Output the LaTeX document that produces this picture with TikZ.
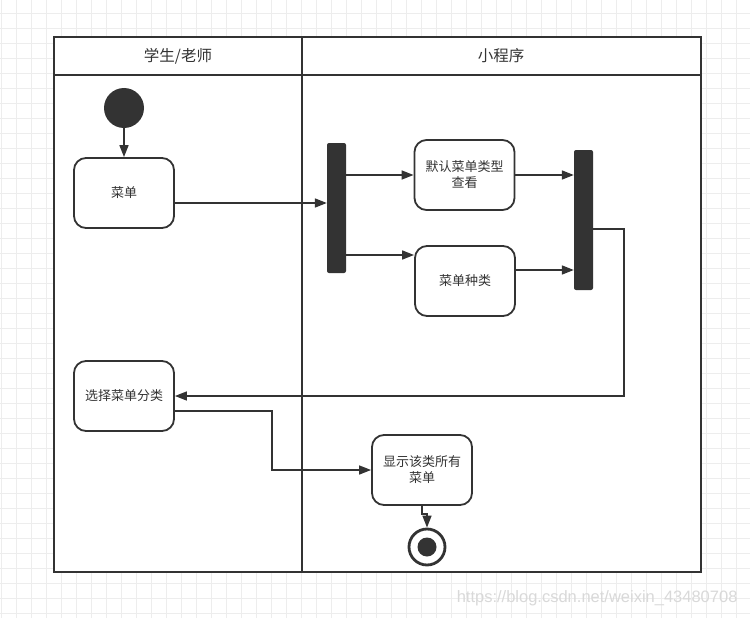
\documentclass[tikz,border=0pt]{standalone}
\usepackage{fontspec}
\setmainfont{Noto Sans CJK SC}
\newfontfamily\markfont{Liberation Sans}
\usepackage{tikz}
\usetikzlibrary{arrows.meta,positioning,shapes,calc}
\definecolor{ink}{HTML}{333333}
\definecolor{gridgray}{HTML}{EDEDED}

\begin{document}
\begin{tikzpicture}[x = 1pt, y = -1pt,
  >={Triangle[length=12pt,width=9pt]},
  act/.style = {draw=ink, line width=1.8pt, rounded corners=12pt, fill=white,
                minimum width=100pt, minimum height=70pt, inner sep=2pt,
                text width=92pt, align=center, text=ink, font=\fontsize{13}{16}\selectfont},
  bar/.style = {fill=ink, rounded corners=2pt, minimum width=19pt, inner sep=0pt},
  flow/.style = {->, draw=ink, line width=1.6pt},
  lane/.style = {draw=ink, line width=1.8pt}]
\useasboundingbox (0,0) rectangle (750,618);
\fill[white] (0,0) rectangle (750,618);

% grid
\foreach \gx in {1,16,...,750} \draw[gridgray, line width=.8pt] (\gx,0) -- (\gx,618);
\foreach \gy in {13,28,...,618} \draw[gridgray, line width=.8pt] (0,\gy) -- (750,\gy);

% swimlanes
\fill[white] (54,37) rectangle (701,572);
\draw[lane] (54,37) rectangle (701,572);
\draw[lane] (54,75) -- (701,75);
\draw[lane] (302,37) -- (302,572);
\node[text=ink, font=\fontsize{15.5}{18}\selectfont] (userlane) at (178,56) {学生/老师};
\node[text=ink, font=\fontsize{15.5}{18}\selectfont] (applane) at (501,56) {小程序};

% nodes
\node[circle, fill=ink, minimum size=40pt, inner sep=0pt] (start) at (124,108) {};
\node[act] (menu) at (124,193) {菜单};
\node[bar, minimum height=130pt] (fork) at (336.5,208) {};
\node[act] (view) at (464.5,175) {默认菜单类型\\查看};
\node[act] (kind) at (465,281) {菜单种类};
\node[bar, minimum height=140pt] (join) at (583.5,220) {};
\node[act] (pick) at (124,396) {选择菜单分类};
\node[act] (show) at (422,470) {显示该类所有\\菜单};
\node[circle, draw=ink, line width=2.8pt, fill=white, minimum size=36pt, inner sep=0pt] (stop) at (427,547) {};
\fill[ink] (stop.center) circle (9.5pt);

\coordinate (turn) at (624,229);
\coordinate (bend) at (272,411);

% connectors
\draw[flow] (start) -- (menu);
\draw[flow] ([yshift=-10pt]menu.east) -- ([yshift=-10pt]menu.east -| fork.west);
\draw[flow] (fork.east |- view.west) -- (view.west);
\draw[flow] (fork.east |- 0,255) -- (kind.west |- 0,255);
\draw[flow] (view.east) -- (view.east -| join.west);
\draw[flow] ([yshift=11pt]kind.east) -- ([yshift=11pt]kind.east -| join.west);
\draw[flow, line width=1.4pt] (join.east |- turn) -- (turn) |- (pick.east);
\draw[flow, line width=1.4pt] (pick.east |- bend) -- (bend) |- (show.west);
\draw[flow] (show.south) -- ++(0,8) -| (stop.north);

% watermark
\node[text=black!15, font=\markfont\fontsize{16.5}{19}\selectfont, anchor=east] (mark) at (741,598) {https://blog.csdn.net/weixin\_43480708};
\end{tikzpicture}
\end{document}
